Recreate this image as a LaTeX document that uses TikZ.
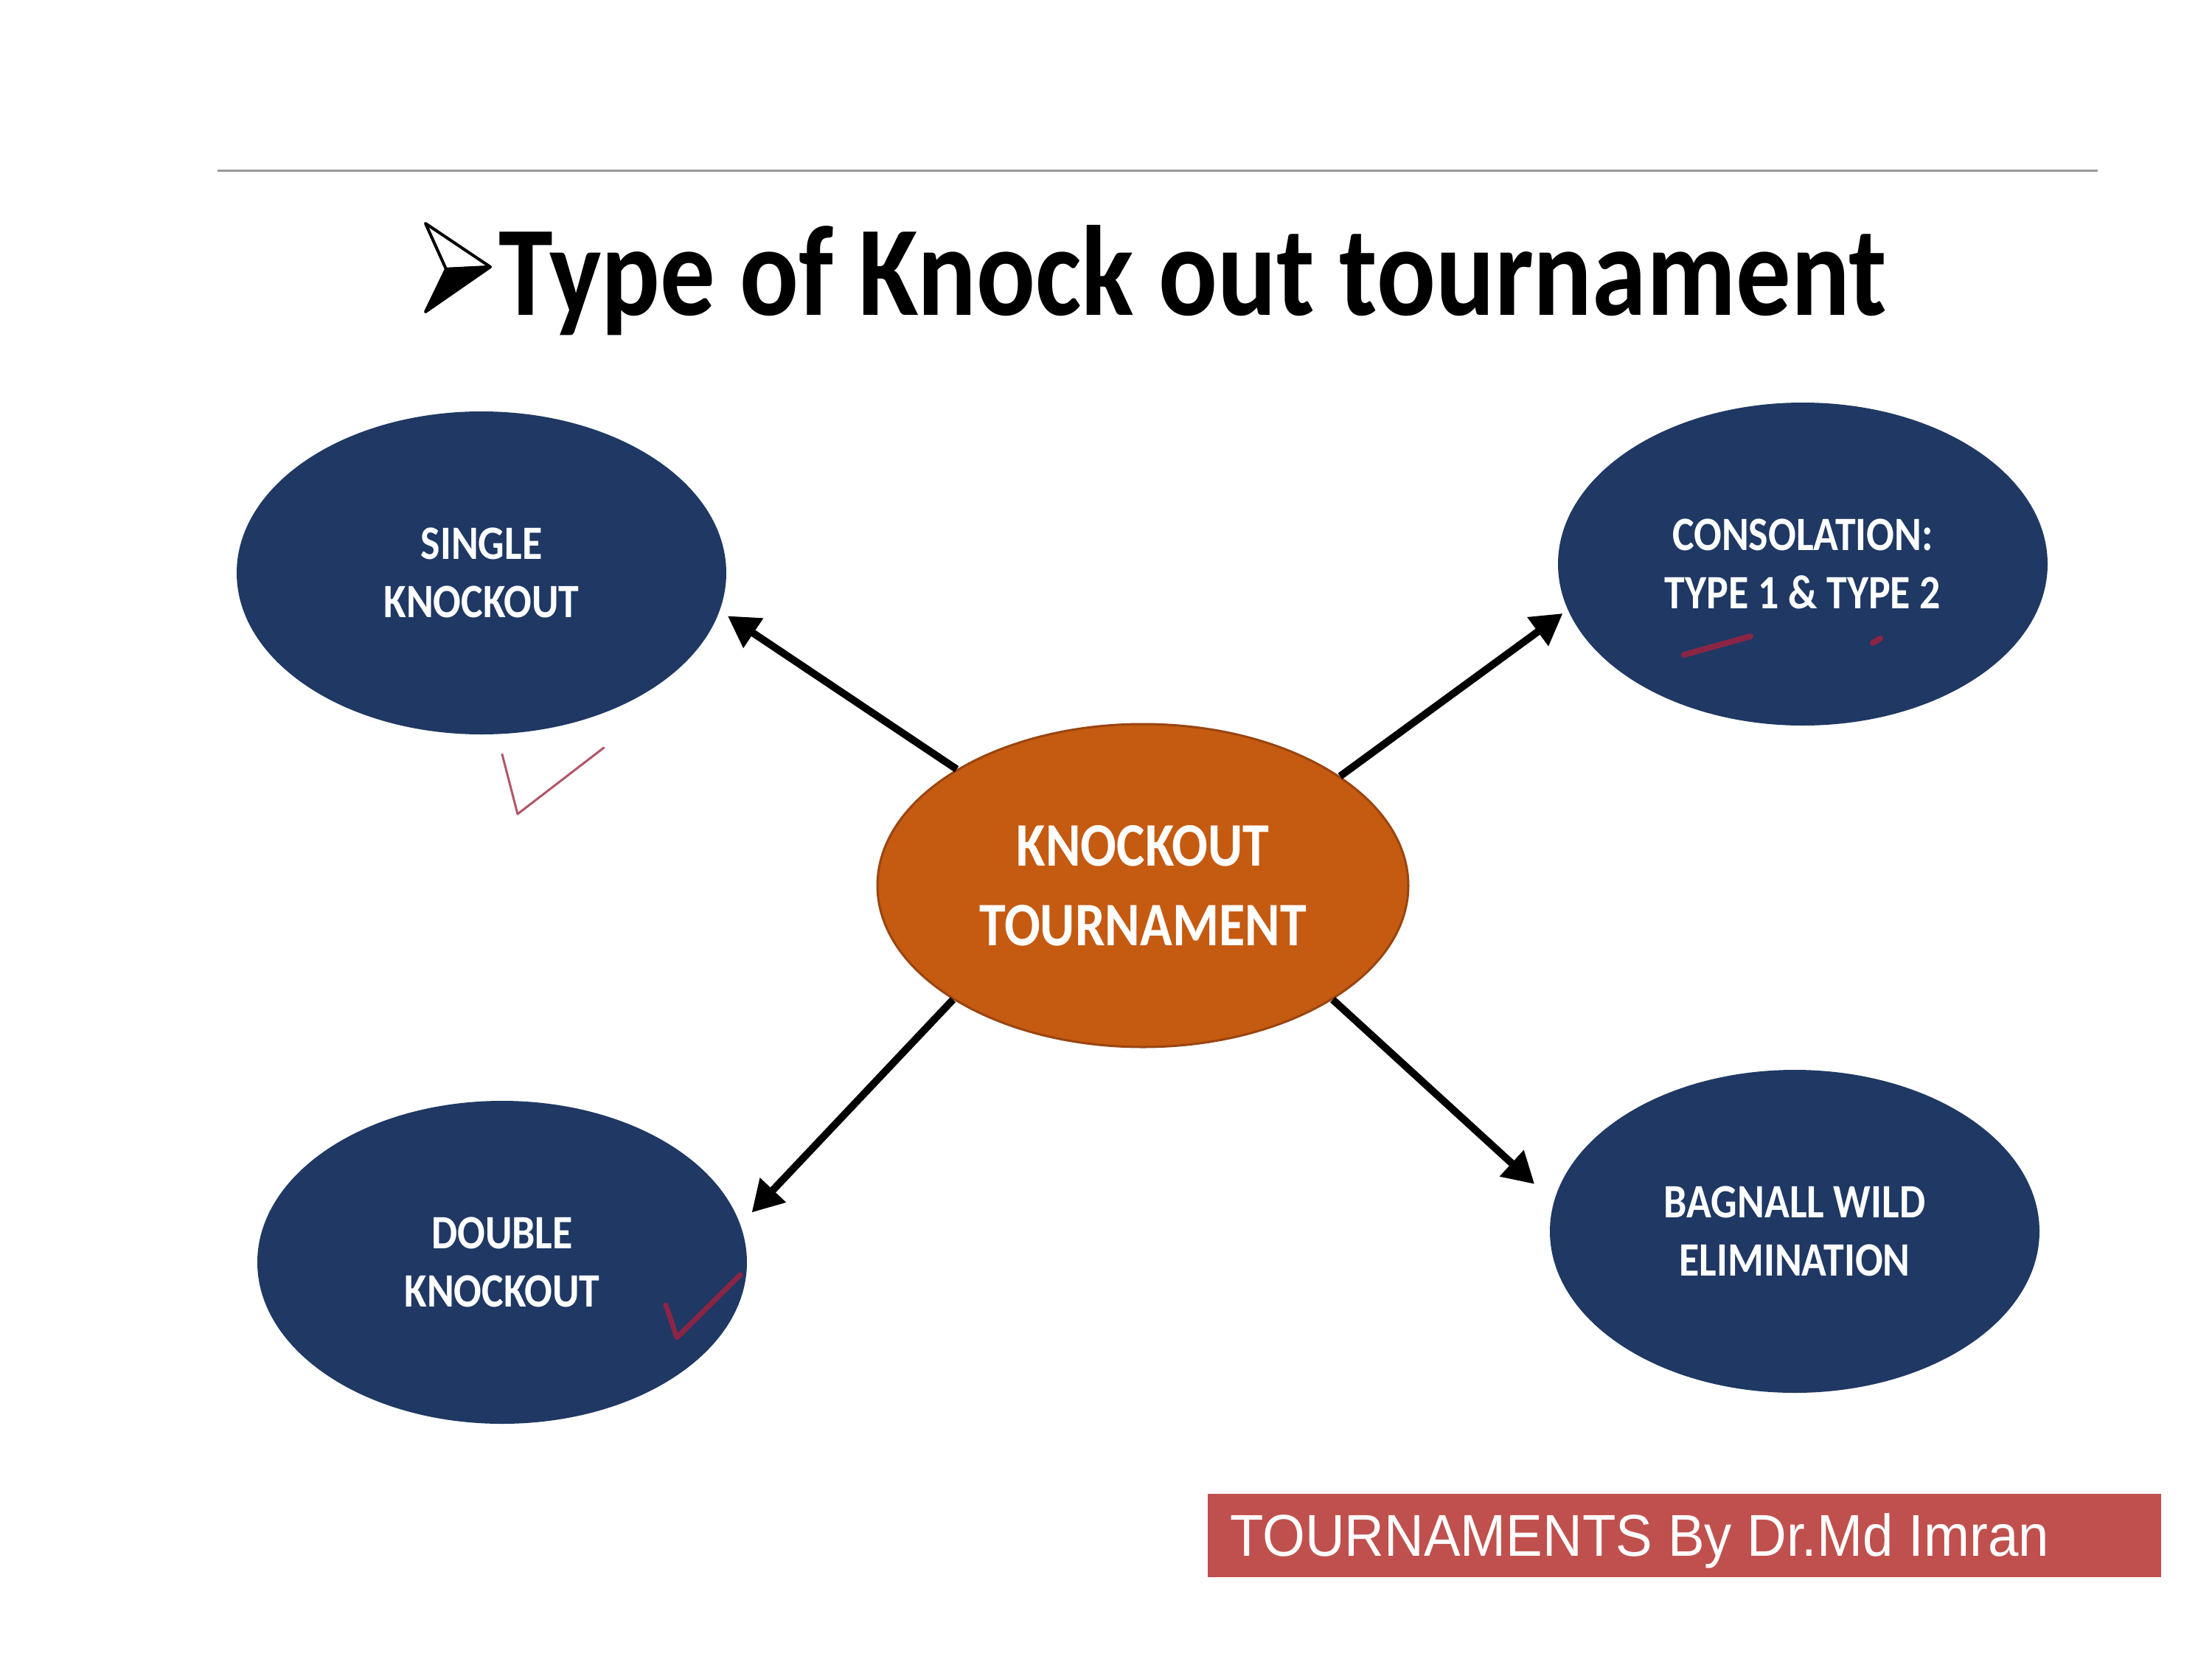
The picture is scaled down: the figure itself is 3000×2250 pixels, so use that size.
\documentclass[tikz,border=0pt]{standalone}
\usepackage{fontspec}
\newfontfamily\calfont{Carlito}[FakeStretch=0.86]
\newfontfamily\titlefont{Carlito}[FakeStretch=0.855]
\newfontfamily\arialfont{Liberation Sans}[FakeStretch=0.93]
\usetikzlibrary{shapes.geometric,arrows.meta}
\definecolor{navy}{HTML}{1F3864}
\definecolor{burnt}{HTML}{C55A11}
\definecolor{burntedge}{HTML}{9A4510}
\definecolor{labelred}{HTML}{C0504D}
\definecolor{inkred}{HTML}{B0566A}
\definecolor{inkdark}{HTML}{8B2545}
\begin{document}
\begin{tikzpicture}[x=1pt,y=-1pt,
  bluebox/.style={ellipse, fill=navy, minimum width=664pt, minimum height=438pt,
    inner sep=0pt, text=white, align=center,
    font=\calfont\bfseries\fontsize{65}{79}\selectfont},
  hubbox/.style={ellipse, fill=burnt, draw=burntedge, line width=3pt,
    minimum width=720pt, minimum height=438pt, inner sep=0pt, text=white,
    align=center, font=\calfont\bfseries\fontsize{84}{108}\selectfont},
  link/.style={line width=10pt, -{Triangle[length=42pt,width=46pt]}},
  ink/.style={line width=3pt, line cap=round, line join=round, draw=inkred},
  inkthick/.style={line width=7pt, line cap=round, line join=round, draw=inkdark},
]
\fill[white] (0,0) rectangle (3000,2250);
\useasboundingbox (0,0) rectangle (3000,2250);

% top rule
\draw[black!40, line width=3pt] (295,232) -- (2845,232);

% title bullet
\filldraw[fill=white, draw=black, line width=4pt, line join=round] (577,303) -- (665,362) -- (605,365) -- cycle;
\filldraw[fill=black, draw=black, line width=4pt, line join=round] (605,365) -- (665,362) -- (577,423) -- cycle;

% title
\node[anchor=base west, inner sep=0pt, font=\titlefont\bfseries\fontsize{174}{200}\selectfont] (title) at (676,427) {Type of Knock out tournament};

% nodes
\node[bluebox] (single) at (653,777) {SINGLE\\KNOCKOUT};
\node[bluebox] (consol) at (2445,765) {CONSOLATION:\\TYPE 1 \& TYPE 2};
\node[bluebox] (double) at (681,1712) {DOUBLE\\KNOCKOUT};
\node[bluebox] (bagnall) at (2434,1670) {BAGNALL WILD\\ELIMINATION};
\node[hubbox] (hub) at (1550,1201) {KNOCKOUT\\TOURNAMENT};

% connectors
\draw[link, shorten >=13pt] (hub.148.7) -- (single.-9.5);
\draw[link, shorten >=8.5pt] (hub.29) -- (consol.-169.75);
\draw[link, shorten >=22.6pt] (hub.211.8) -- (double.9.7);
\draw[link, shorten >=35.6pt] (hub.-31.5) -- (bagnall.173.2);

% hand-drawn marks
\draw[ink] (681,1023) -- (702,1104) -- (819,1014);
\draw[inkthick] (903,1770) -- (918,1814) -- (1004,1729);
\draw[inkthick, line width=8pt] (2284,888) -- (2374,863);
\draw[inkthick, line width=8pt] (2540,872) -- (2550,866);

% credit label
\node[fill=labelred, minimum width=1293pt, minimum height=113pt, inner sep=0pt, anchor=north west] (credit) at (1638,2026) {};
\node[anchor=base west, inner sep=0pt, text=white, font=\arialfont\fontsize{80}{96}\selectfont] (credittext) at (1668,2110) {TOURNAMENTS By Dr.Md Imran};
\end{tikzpicture}
\end{document}
